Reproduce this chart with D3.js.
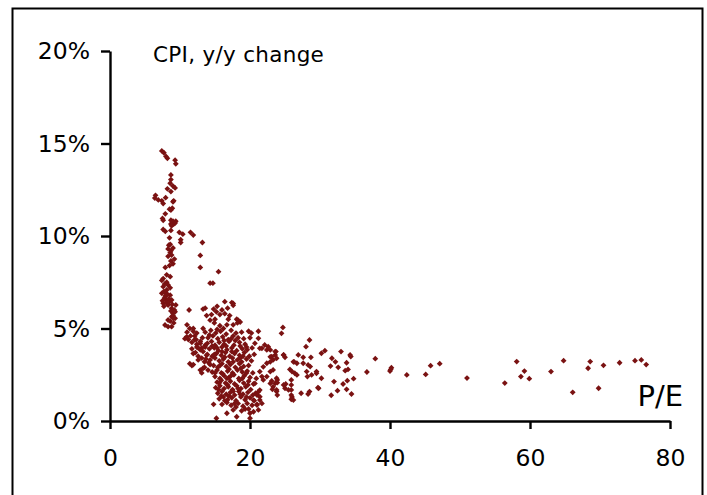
<!DOCTYPE html>
<html>
<head>
<meta charset="utf-8">
<script src="https://cdn.jsdelivr.net/npm/d3@7"></script>
<style>
  html, body { margin: 0; padding: 0; background: #fff; }
  svg { display: block; }
  text { font-family: "DejaVu Sans", Verdana, sans-serif; fill: #000; }
</style>
</head>
<body>
<svg id="chart" width="707" height="495"></svg>
<script>
// ---- data: [P/E, CPI y/y %] ----
const highInflation = [
  [7.4,14.6],[7.7,14.5],[8.0,14.3],[8.2,14.2],[9.3,14.1],[9.4,13.9],
  [8.7,13.3],[8.7,13.05],[8.6,12.85],[9.0,12.7],[9.3,12.6],[8.2,12.55],[8.7,12.4],
  [6.5,12.2],[6.4,12.05],[6.9,11.95],[7.4,11.9],[7.6,11.75],[7.95,12.07],[9.0,11.85],[9.1,11.9],
  [8.9,11.5],[8.7,11.4],[8.5,11.45],[7.9,11.2],[7.5,10.95],[7.6,10.85],[8.7,10.85],[9.0,10.8],
  [9.4,10.8],[8.7,10.65],[9.1,10.65],[8.9,10.75],[9.3,10.7],[8.8,10.55],
  [7.6,10.35],[7.9,10.25],[8.7,10.3],[9.9,10.2],[10.4,10.1],[11.5,10.2],[11.9,10.05],
  [13.2,9.65],[8.5,9.9],[10.1,9.8],[10.1,9.65],[8.4,9.5],[8.6,9.55],[8.3,9.3],[8.7,9.2],
  [9.0,9.35],[8.6,9.1],[8.3,8.9],[8.8,8.97],[8.7,8.65],[9.2,8.75],[9.0,8.5],[8.5,8.4],
  [12.9,8.95],[7.9,8.3],[12.9,8.3],[15.5,8.07],[8.1,7.9],[8.6,7.8],[7.6,7.7]
];
const midInflation = [
  [7.4,7.6],[8.1,7.5],[8.3,7.35],[7.6,7.26],[8.1,7.08],[7.4,6.9],[7.9,6.76],[8.6,6.8],
  [7.6,6.36],[8.1,6.54],[8.8,6.54],[8.3,6.27],[8.8,6.09],[9.4,6.27],[9.0,5.82],[8.8,5.64],
  [9.3,5.55],[8.3,5.1],[8.8,5.1],[7.7,7.0],[7.9,6.95],[8.2,6.85],[7.8,6.65],[8.4,6.6],
  [7.5,6.5],[8.0,6.4],[8.5,6.45],[8.9,6.3],[7.7,6.2],[8.7,5.95],[9.2,6.0],[9.0,5.7],
  [8.6,5.4],[9.1,5.3],[7.8,7.4],[8.6,7.2],[7.86,5.19],[8.3,5.46],[9.05,5.55],[9.3,5.9],
  [11.3,6.0],[13.3,6.05],[13.6,6.1],[14.3,7.45],[14.7,7.45]
];
const mainCluster = [
  [16.4,6.45],[17.4,6.4],[17.6,6.25],[14.8,6.05],[16.0,6.0],[15.2,5.9],[15.7,5.75],[16.4,5.8],
  [17.1,5.7],[16.9,5.5],[18.1,5.5],[18.6,5.35],[14.5,5.75],[13.8,5.7],[14.3,5.45],[15.0,5.5],
  [17.6,5.2],[16.7,5.2],[15.7,5.15],[16.2,5.0],[17.6,6.35],[18.3,5.45],[18.2,5.3],[15.3,6.2],
  [16.8,6.1],[14.9,5.3],[11.0,5.2],[11.4,5.0],[11.9,5.0],[13.3,5.0],[19.8,4.85],[20.2,4.75],
  [21.2,4.85],
  [11.0,4.8],[11.9,4.85],[12.1,4.6],[10.7,4.45],[11.2,4.4],[11.7,4.25],[12.4,4.15],[12.9,4.3],
  [13.1,3.95],[13.6,4.1],[13.3,3.75],[11.9,3.65],[12.6,3.5],[11.4,3.1],[11.7,3.0],[12.4,4.75],
  [10.95,4.55],[12.1,4.4],[12.9,4.2],[12.4,4.0],[11.7,3.9],[12.9,3.85],[13.6,4.0],[11.9,3.05],
  [12.9,2.75],[13.3,2.85],[13.1,2.6],[14.0,2.75],[14.3,3.05],[12.6,3.3],[13.1,3.4],[12.2,3.7],
  [13.5,3.2],[13.8,3.55],
  [13.6,4.8],[14.4,4.9],[15.1,4.75],[15.8,4.85],[16.6,4.7],[17.3,4.9],[18.0,4.75],[18.8,4.8],
  [14.0,4.5],[14.7,4.6],[15.4,4.45],[16.1,4.55],[16.9,4.4],[17.6,4.6],[18.3,4.5],[19.1,4.45],[20.0,4.5],
  [13.9,4.2],[14.5,4.3],[15.0,4.1],[15.6,4.25],[16.3,4.15],[17.0,4.3],[17.7,4.1],[18.5,4.25],[19.3,4.15],
  [14.2,3.9],[14.9,3.95],[15.5,3.8],[16.0,4.0],[16.7,3.85],[17.4,3.95],[18.1,3.8],[18.9,3.9],[19.6,3.85],[20.3,3.95],
  [13.9,3.6],[14.6,3.5],[15.2,3.65],[15.9,3.55],[16.5,3.7],[17.1,3.5],[17.8,3.65],[18.5,3.55],[19.2,3.7],[19.9,3.5],[20.6,3.6],
  [14.3,3.3],[15.0,3.4],[15.6,3.25],[16.2,3.35],[16.9,3.2],[17.5,3.4],[18.2,3.3],[18.8,3.2],[19.5,3.35],[20.2,3.25],
  [14.8,3.0],[15.4,2.9],[16.0,3.1],[16.6,2.95],[17.2,3.05],[17.9,2.9],[18.5,3.1],[19.1,2.95],[19.8,3.0],
  [14.6,2.65],[15.3,2.75],[15.9,2.6],[16.8,2.7],[17.5,2.6],[18.2,2.75],[18.9,2.65],[19.6,2.7],[20.4,2.6],
  [15.0,2.4],[15.7,2.3],[16.3,2.45],[17.0,2.35],[17.7,2.5],[18.4,2.3],[19.2,2.45],[20.0,2.35],
  [15.3,2.1],[15.9,2.2],[16.5,2.05],[17.2,2.15],[17.8,2.0],[18.5,2.2],[19.1,2.05],[19.8,2.15],[20.5,2.0],
  [15.1,1.8],[15.7,1.9],[16.3,1.75],[16.9,1.85],[17.5,1.7],[18.1,1.9],[18.7,1.75],[19.4,1.85],[20.1,1.7],
  [15.4,1.5],[16.0,1.6],[16.6,1.45],[17.2,1.55],[17.8,1.4],[18.4,1.6],[19.0,1.45],[19.7,1.55],[20.4,1.4],
  [15.6,1.2],[16.2,1.3],[16.8,1.15],[17.4,1.25],[18.0,1.1],[18.7,1.3],[19.3,1.15],[20.0,1.25],[20.6,1.1],
  [16.0,0.9],[16.7,1.0],[17.3,0.85],[18.3,0.95],[19.0,0.8],[19.6,0.95],[20.3,0.85],[21.0,0.9],
  [17.6,0.6],[18.8,0.55],[19.8,0.65],[20.5,0.5],[21.2,0.6],[21.4,1.13],
  [15.2,0.15],[16.7,0.42],[18.1,0.23],[20.0,0.42],[20.0,0.15],[14.8,0.9]
];
const clusterFill = [
  [14.2,4.65],[15.3,4.95],[16.3,4.35],[17.3,4.45],[18.6,4.05],[15.3,3.95],[16.4,3.45],[17.6,3.2],
  [14.1,3.15],[15.7,3.0],[17.0,2.8],[18.7,2.85],[16.1,2.55],[17.3,2.45],[18.9,2.3],[15.6,2.05],
  [16.8,1.95],[18.3,1.75],[19.7,1.95],[15.9,1.35],[17.0,1.35],[18.6,1.45],[19.5,1.3],[17.8,0.95],
  [16.4,1.1],[19.3,0.65],[18.0,0.75],[20.8,1.5],[20.9,2.3],[12.3,4.4],[11.5,4.6],[12.6,3.95],
  [13.7,3.35],[14.9,3.6],[16.0,3.75],[17.4,3.75],[18.6,3.4],[19.0,3.5],[15.0,2.6],[13.5,2.9],
  [16.6,4.05],[17.9,4.35],[14.6,4.05],[13.2,4.5],[19.5,2.6],[16.7,2.3],[15.5,1.7],[17.6,1.6]
];
const nearCluster = [
  [19.5,4.0],[20.7,4.2],[21.7,3.93],[22.4,3.84],[23.6,3.75],[24.8,3.57],[22.9,3.47],[23.3,3.3],
  [22.4,3.12],[21.9,2.93],[21.4,2.67],[22.4,2.4],[22.9,2.03],[23.3,1.85],[23.8,1.68],[23.8,2.31],
  [24.8,1.95],[25.0,1.77],[21.9,2.22],[20.7,2.03],[21.2,1.58],[22.6,4.02],[22.9,3.84],[23.6,3.57],
  [23.8,3.39],[21.4,3.93],[22.1,4.11],[21.2,4.47],[22.9,3.2],[22.9,2.67],[23.1,2.16],[23.6,2.04],
  [21.7,2.4],[21.4,1.67],[21.0,1.4],[21.4,1.31],[21.7,0.95],[20.5,1.13],[21.0,0.86]
];
const highValuation = [
  [24.7,5.06],[24.5,4.74],[28.5,4.38],[28.0,4.02],[23.7,3.75],[23.1,3.48],[24.8,3.57],[25.0,3.44],
  [26.9,3.57],[27.6,3.44],[28.7,3.44],[26.3,3.2],[27.6,3.12],[28.3,3.03],[30.2,3.66],[30.7,3.8],
  [33.0,3.75],[34.4,3.48],[31.7,3.39],[32.2,3.2],[33.8,3.15],[37.9,3.37],[31.5,2.97],[32.6,2.9],
  [33.6,2.72],[34.0,2.79],[25.7,2.79],[26.0,2.67],[26.4,2.58],[26.7,2.49],[28.1,2.67],[28.2,2.4],
  [28.8,2.49],[29.5,2.58],[30.2,2.31],[23.3,2.76],[23.9,2.22],[23.9,2.07],[25.1,2.0],
  [25.9,2.22],[25.9,1.95],[25.9,1.68],[25.9,1.4],[25.9,1.17],[25.5,1.68],[23.2,1.71],[23.8,1.59],
  [27.3,1.5],[28.5,1.59],[28.3,1.46],[29.7,1.8],[32.0,2.13],[33.3,2.0],[33.9,2.18],[34.8,2.29],
  [32.5,1.64],[33.8,1.71],[34.5,1.46],[31.6,1.39],[36.7,2.65],[23.9,1.4],[26.2,1.13],[26.0,1.3],
  [29.8,1.77],[28.6,2.94],[29.5,2.67],[34.3,3.57],[26.2,3.2],[26.7,3.12]
];
const tail = [
  [40.0,2.7],[40.2,2.88],[40.1,2.79],[42.4,2.49],[45.1,2.52],[45.8,2.99],[47.1,3.1],[51.0,2.32],
  [56.4,2.05],[58.1,3.21],[58.7,2.4],[59.2,2.7],[59.9,2.29],[63.0,2.67],[64.8,3.26],[66.1,1.55],
  [68.3,2.85],[68.6,3.21],[69.8,1.77],[70.5,3.01],[72.8,3.15],[75.0,3.26],[75.9,3.3],[76.6,3.05]
];
const xTicks = [0, 20, 40, 60, 80];
const yTicks = [0, 5, 10, 15, 20];
const chartTitle = "CPI, y/y change";
const xTitle = "P/E";

// ---- drawing ----
const svg = d3.select("#chart");
const x = d3.scaleLinear().domain([0, 80]).range([110, 670]);
const y = d3.scaleLinear().domain([0, 20]).range([421, 51]);
const color = "#7a1212";

// outer frame
svg.append("rect")
  .attr("x", 12.5).attr("y", 8.5).attr("width", 690).attr("height", 520)
  .attr("fill", "none").attr("stroke", "#000").attr("stroke-width", 2);

// points
const allPoints = [].concat(highInflation, midInflation, mainCluster, clusterFill, nearCluster, highValuation, tail);
const sym = d3.symbol().type(d3.symbolSquare).size(17);
svg.append("g").selectAll("path").data(allPoints).join("path")
  .attr("d", sym)
  .attr("transform", d => `translate(${x(d[0])},${y(d[1])}) rotate(45)`)
  .attr("fill", color);

// y axis
const yAxis = d3.axisLeft(y).tickValues(yTicks).tickFormat(d => d + "%").tickSize(9).tickSizeOuter(0).tickPadding(11);
const gy = svg.append("g").attr("transform", "translate(110,0)").call(yAxis);
gy.select(".domain").attr("stroke", "#000").attr("stroke-width", 2.4);
gy.selectAll(".tick line").attr("stroke", "#000").attr("stroke-width", 2.4);
gy.selectAll(".tick text").attr("font-size", 23.5).attr("font-family", "DejaVu Sans").attr("fill", "#000")
  .attr("dy", "0.33em");

// x axis
const xAxis = d3.axisBottom(x).tickValues(xTicks).tickSize(8).tickSizeOuter(0).tickPadding(20);
const gx = svg.append("g").attr("transform", "translate(0,421)").call(xAxis);
gx.select(".domain").attr("stroke", "#000").attr("stroke-width", 2.4);
gx.selectAll(".tick line").attr("stroke", "#000").attr("stroke-width", 2.4);
gx.selectAll(".tick text").attr("font-size", 23.5).attr("font-family", "DejaVu Sans").attr("fill", "#000");

// chart title
svg.append("text").attr("x", 153).attr("y", 62)
  .attr("font-size", 21.5).attr("letter-spacing", 0.3).text(chartTitle);

// x title
svg.append("text").attr("x", 683).attr("y", 406).attr("text-anchor", "end")
  .attr("font-size", 29).text(xTitle);
</script>
</body>
</html>
